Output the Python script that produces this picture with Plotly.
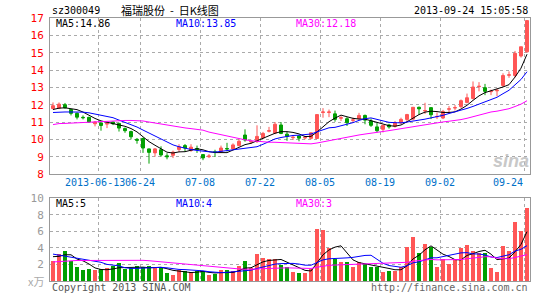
import plotly.graph_objects as go

# ---------------- data ----------------
opens = [11.78, 11.80, 12.00, 11.72, 11.50, 11.27, 11.27, 10.90, 10.95, 10.88,
         11.00, 10.92, 10.63, 10.45, 10.00, 10.05, 9.45, 9.22, 9.40, 9.05,
         9.08, 9.42, 9.64, 9.36, 9.47, 9.12, 9.00, 9.28, 9.30, 9.47,
         9.45, 9.64, 10.25, 9.85, 9.87, 10.08, 10.47, 10.36, 10.83, 10.30,
         10.10, 10.20, 10.08, 10.06, 10.05, 11.55, 11.55, 11.47, 11.22, 11.19,
         11.10, 11.19, 11.38, 11.06, 10.72, 10.58, 10.83, 10.75, 10.96, 11.15,
         11.17, 11.85, 11.64, 11.83, 11.30, 11.23, 11.74, 11.81, 11.89, 12.13,
         12.36, 13.04, 12.98, 12.75, 12.80, 13.11, 13.70, 13.68, 14.81, 15.05]
highs = [12.13, 12.13, 12.10, 11.75, 11.55, 11.38, 11.30, 11.05, 10.97, 11.00,
         11.02, 10.95, 10.68, 10.50, 10.08, 10.10, 9.47, 9.50, 9.60, 9.20,
         9.35, 9.72, 9.73, 9.72, 9.64, 9.15, 9.15, 9.40, 9.64, 9.80,
         9.77, 10.02, 10.58, 9.98, 10.81, 10.43, 10.72, 11.00, 11.00, 10.43,
         10.20, 10.22, 10.20, 10.38, 11.43, 11.80, 11.72, 11.66, 11.34, 11.28,
         11.25, 11.53, 11.43, 11.20, 10.96, 10.81, 10.90, 11.06, 11.25, 11.47,
         11.87, 11.89, 12.11, 11.85, 11.55, 11.70, 11.92, 11.98, 12.30, 12.64,
         13.34, 13.30, 13.20, 12.87, 12.92, 13.81, 13.92, 15.10, 15.34, 16.85]
lows = [11.72, 11.75, 11.78, 11.38, 11.15, 11.15, 10.95, 10.75, 10.50, 10.65,
        10.82, 10.45, 10.38, 10.00, 9.75, 9.22, 8.60, 9.00, 9.00, 8.85,
        8.92, 9.27, 9.30, 9.28, 9.22, 8.80, 8.92, 8.98, 9.22, 9.30,
        9.42, 9.60, 9.87, 9.73, 9.80, 10.02, 10.40, 10.30, 10.30, 9.92,
        9.96, 9.89, 10.00, 10.00, 10.02, 11.25, 11.28, 11.02, 11.06, 10.77,
        10.96, 11.15, 10.87, 10.72, 10.40, 10.40, 10.62, 10.68, 10.87, 10.96,
        11.10, 11.42, 11.47, 11.17, 11.17, 11.17, 11.50, 11.66, 11.80, 12.08,
        12.30, 12.77, 12.55, 12.55, 12.49, 13.02, 13.55, 13.58, 14.72, 15.00]
closes = [11.94, 12.03, 11.82, 11.50, 11.28, 11.25, 11.00, 11.00, 10.80, 10.92,
          10.90, 10.65, 10.50, 10.15, 9.95, 9.50, 9.25, 9.45, 9.10, 9.00,
          9.26, 9.58, 9.50, 9.55, 9.42, 8.93, 9.04, 9.25, 9.50, 9.45,
          9.68, 9.89, 9.96, 9.88, 10.17, 10.34, 10.50, 10.87, 10.34, 10.17,
          10.12, 10.07, 10.12, 10.38, 11.43, 11.58, 11.58, 11.15, 11.25, 10.96,
          11.12, 11.38, 11.11, 10.81, 10.50, 10.81, 10.72, 10.96, 11.15, 11.43,
          11.85, 11.76, 11.66, 11.42, 11.32, 11.60, 11.76, 11.83, 12.23, 12.40,
          13.02, 13.06, 12.77, 12.77, 12.83, 13.68, 13.72, 14.96, 15.34, 16.85]
volumes = [2.34, 3.29, 3.65, 2.34, 1.63, 1.27, 1.39, 1.27, 1.39, 1.50,
           1.75, 2.10, 1.39, 1.50, 1.75, 1.63, 1.75, 1.50, 1.63, 0.91,
           0.67, 1.27, 1.15, 1.10, 1.15, 1.15, 0.67, 0.80, 1.27, 1.27,
           1.15, 1.75, 2.34, 1.50, 3.29, 2.70, 2.58, 2.58, 1.87, 1.63,
           1.05, 0.95, 0.95, 1.47, 6.30, 6.15, 3.90, 2.66, 2.26, 2.26,
           1.67, 2.26, 1.98, 1.67, 1.67, 1.07, 1.19, 1.19, 1.67, 4.05,
           5.24, 3.41, 4.50, 4.05, 1.67, 2.58, 2.00, 2.60, 3.90, 4.37,
           3.65, 3.30, 3.35, 1.55, 1.07, 4.25, 3.65, 7.10, 6.03, 8.80]

# moving-average values for the first days (their windows begin before the chart)
ma5_head = [11.72, 11.80, 11.82, 11.75]
ma10_head = [11.55, 11.58, 11.58, 11.58, 11.58, 11.57, 11.53, 11.47, 11.40]
ma30_head = [10.85, 10.91, 10.92, 10.94, 10.96, 10.98, 11.00, 11.00, 11.02, 11.04,
             11.08, 11.09, 11.09, 11.09, 11.08, 11.06, 11.00, 10.94, 10.87, 10.81,
             10.79, 10.72, 10.66, 10.62, 10.58, 10.53, 10.42, 10.34, 10.26]
vma5_head = [2.94, 2.98, 3.17, 3.17]
vma10_head = [3.25, 3.13, 3.02, 2.90, 2.74, 2.58, 2.46, 2.38, 2.26]
vma30_head = [2.30, 2.36, 2.42, 2.46, 2.48, 2.48, 2.48, 2.48, 2.46, 2.50,
              2.55, 2.55, 2.52, 2.50, 2.52, 2.50, 2.45, 2.38, 2.30, 2.24,
              2.18, 2.12, 2.06, 2.00, 1.95, 1.88, 1.80, 1.72, 1.66]

date_labels = ["2013-06-13", "06-24", "07-08", "07-22", "08-05", "08-19", "09-02", "09-24"]
date_index = [8, 15, 25, 35, 45, 55, 65, 79]
price_ticks = [8, 9, 10, 11, 12, 13, 14, 15, 16, 17]
vol_ticks = [2, 4, 6, 8, 10]

ma_labels = ["MA5:14.86", "MA10:13.85", "MA30:12.18"]
vma_labels = ["MA5:5", "MA10:4", "MA30:3"]


def moving(values, n, head):
    out = list(head)
    for i in range(len(head), len(values)):
        win = values[i - n + 1:i + 1]
        out.append(sum(win) / n)
    return out


n = len(closes)
xs = list(range(n))
ma5 = moving(closes, 5, ma5_head)
ma10 = moving(closes, 10, ma10_head)
ma30 = moving(closes, 30, ma30_head)
vma5 = moving(volumes, 5, vma5_head)
vma10 = moving(volumes, 10, vma10_head)
vma30 = moving(volumes, 30, vma30_head)

RED = "#FF5656"
GREEN = "#00A000"
vol_colors = [RED if c >= o else GREEN for o, c in zip(opens, closes)]

W, H = 545, 300
L, R, T, B = 50, 15, 18, 14
PW, PH = W - L - R, H - T - B


def px(x):
    return (x - L) / PW


def py(y):
    return (H - B - y) / PH


fig = go.Figure()
fig.add_trace(go.Candlestick(
    x=xs, open=opens, high=highs, low=lows, close=closes,
    increasing=dict(line=dict(color=RED, width=1), fillcolor=RED),
    decreasing=dict(line=dict(color=GREEN, width=1), fillcolor=GREEN),
    whiskerwidth=0, xaxis="x", yaxis="y", hoverinfo="skip"))
for series, col in [(ma5, "black"), (ma10, "#0000FF"), (ma30, "#FF00FF")]:
    fig.add_trace(go.Scatter(x=xs, y=series, mode="lines", line=dict(color=col, width=1),
                             xaxis="x", yaxis="y", hoverinfo="skip"))
fig.add_trace(go.Bar(x=xs, y=volumes, marker=dict(color=vol_colors, line=dict(width=0)),
                     width=0.8, xaxis="x2", yaxis="y2", hoverinfo="skip"))
for series, col in [(vma5, "black"), (vma10, "#0000FF"), (vma30, "#FF00FF")]:
    fig.add_trace(go.Scatter(x=xs, y=series, mode="lines", line=dict(color=col, width=1),
                             xaxis="x2", yaxis="y2", hoverinfo="skip"))

grid_x = [i - 0.5 for i in date_index]
axis_common = dict(showline=True, linecolor="#999999", linewidth=1, mirror=True,
                   gridcolor="#AAAAAA", griddash="dot", gridwidth=1, zeroline=False,
                   fixedrange=True)
mono = "DejaVu Sans Mono"

fig.update_layout(
    width=W, height=H, margin=dict(l=L, r=R, t=T, b=B),
    paper_bgcolor="white", plot_bgcolor="white", showlegend=False,
    boxgap=0.3, bargap=0,
    xaxis=dict(domain=[0, 1], range=[-0.5, n - 0.5], tickvals=grid_x, showticklabels=False,
               showgrid=True, rangeslider=dict(visible=False), anchor="y", **axis_common),
    xaxis2=dict(domain=[0, 1], range=[-0.5, n - 0.5], tickvals=grid_x, showticklabels=False,
                showgrid=True, anchor="y2", matches="x", **axis_common),
    yaxis=dict(domain=[py(177), 1], range=[8, 17], tickvals=price_ticks,
               ticktext=[str(v) for v in price_ticks], showgrid=True, ticks="",
               tickfont=dict(family=mono, size=11, color="#FF0000"), ticklabelstandoff=3,
               anchor="x", **axis_common),
    yaxis2=dict(domain=[0, py(201.7)], range=[0, 10], tickvals=vol_ticks,
                ticktext=[str(v) for v in vol_ticks], showgrid=True, ticks="",
                tickfont=dict(family=mono, size=11, color="#999999"), ticklabelstandoff=3,
                anchor="x2", **axis_common),
)

ann = []


def text(x, y, s, color="black", size=10, xanchor="left", family=mono, **kw):
    ann.append(dict(x=px(x), y=py(y), xref="paper", yref="paper", text=s, showarrow=False,
                    xanchor=xanchor, yanchor="middle",
                    font=dict(family=family, size=size, color=color), **kw))


NB = "\u00a0"
text(50, 10, "sz300049", "black", 10)
text(119, 10, "福瑞股份" + NB * 2 + "-" + NB * 2 + "日K线图", "black", 11,
     family="Noto Sans CJK SC")
text(530, 10, "2013-09-24 15:05:58", "black", 10, xanchor="right")
ma_cols = ["black", "#0000FF", "#FF00FF"]
ma_x = [54, 174, 294]
for s, c, x in zip(ma_labels, ma_cols, ma_x):
    text(x, 24, s, c, 10)
for s, c, x in zip(vma_labels, ma_cols, ma_x):
    text(x, 207, s, c, 10)
for lab, idx in zip(date_labels, date_index):
    xc = L + (idx) * PW / n
    if idx == date_index[0]:
        xc -= 3
    if idx == n - 1:
        xc = 508
    text(xc, 186, lab, "#0070C8", 10, xanchor="center")
text(46, 286, "x万", "#AAAAAA", 11, xanchor="right", family="Noto Sans CJK SC")
text(50, 293, "Copyright 2013 SINA.COM", "#555555", 10)
text(530, 293, "http://finance.sina.com.cn", "#666666", 10, xanchor="right")
text(511, 164, "<b><i>sina</i></b>", "#C8C8C8", 18, xanchor="center", family="Arial")
fig.update_layout(annotations=ann)

fig.write_html("out.html")
